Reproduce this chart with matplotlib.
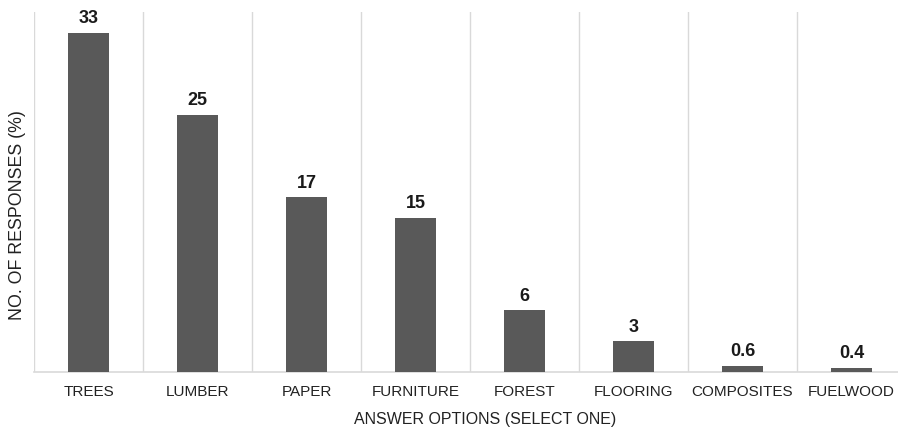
import numpy as np
import matplotlib.pyplot as plt

# survey answers
categories = ['TREES', 'LUMBER', 'PAPER', 'FURNITURE', 'FOREST',
              'FLOORING', 'COMPOSITES', 'FUELWOOD']
values = [33, 25, 17, 15, 6, 3, 0.6, 0.4]
labels = ['33', '25', '17', '15', '6', '3', '0.6', '0.4']

plt.rcParams['font.family'] = ['Liberation Sans', 'DejaVu Sans']

fig = plt.figure(figsize=(8.98, 4.33), dpi=100)
W, H = 898, 433
ax = fig.add_axes([34/W, (H-372)/H, 872/W, 360/H])

x = np.arange(len(categories))
ax.bar(x, values, width=0.37, color='#595959', zorder=3)

for xi, v, s in zip(x, values, labels):
    ax.annotate(s, (xi, v), xytext=(0, 4), textcoords='offset points',
                ha='center', va='bottom', fontsize=13, fontweight='bold',
                color='#1a1a1a')

ax.set_xlim(-0.5, len(categories) - 0.5)
ax.set_ylim(0, 35)

# gridlines between categories
ax.set_xticks(x)
ax.set_xticks(np.arange(len(categories)) - 0.5, minor=True)
ax.grid(which='minor', axis='x', color='#d9d9d9', linewidth=1, zorder=0)
ax.tick_params(which='both', length=0)
ax.set_xticklabels(categories, fontsize=11, color='#222222')
ax.tick_params(axis='x', pad=9)
ax.set_yticks([])

for s in ['top', 'right', 'left']:
    ax.spines[s].set_visible(False)
ax.spines['bottom'].set_color('#d9d9d9')
ax.spines['bottom'].set_linewidth(1.2)

ax.set_xlabel('ANSWER OPTIONS (SELECT ONE)', fontsize=11.5, color='#222222')
ax.xaxis.set_label_coords(451/872, -40/360)
ax.set_ylabel('NO. OF RESPONSES (%)', fontsize=12.8, color='#222222')
ax.yaxis.set_label_coords(-8/872, 0.435)

fig.savefig('out.png', dpi=100)
